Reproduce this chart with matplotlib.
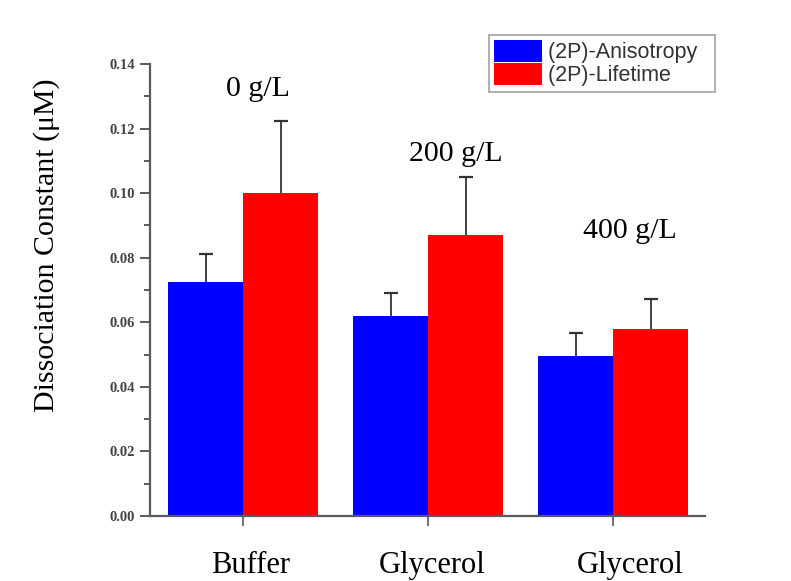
import numpy as np
import matplotlib
matplotlib.use("Agg")
import matplotlib.pyplot as plt
from matplotlib.ticker import MultipleLocator
from matplotlib.patches import Patch

# Data
categories = ["Buffer", "Glycerol", "Glycerol"]
concentrations = ["0 g/L", "200 g/L", "400 g/L"]
anisotropy = [0.0725, 0.062, 0.0495]
anisotropy_err = [0.0085, 0.007, 0.0072]
lifetime = [0.100, 0.087, 0.058]
lifetime_err = [0.0225, 0.018, 0.0092]
series_names = ["(2P)-Anisotropy", "(2P)-Lifetime"]

BLUE = "#0000FF"
RED = "#FF0000"
AX_GRAY = "#5a5a5a"
SERIF = ["Liberation Serif", "DejaVu Serif"]

fig = plt.figure(figsize=(7.91, 5.81), dpi=100)
ax = fig.add_axes([150 / 791, 1 - 516 / 581, 555 / 791, 452 / 581])

x = np.arange(len(categories))
width = 0.405
err_kw = dict(ecolor="#333333", elinewidth=1.3, capsize=5, capthick=1.6)

for offset, vals, errs, col in ((-width / 2, anisotropy, anisotropy_err, BLUE),
                                (width / 2, lifetime, lifetime_err, RED)):
    bc = ax.bar(x + offset, vals, width, color=col, linewidth=0,
                yerr=[np.zeros(len(x)), errs], error_kw=err_kw, zorder=2)
    # one-sided error bars: hide the cap sitting on the bar top
    caps = bc.errorbar.lines[1]
    if len(caps) == 2:
        caps[0].set_visible(False)

ax.set_xlim(-0.503, 2.497)

# Spines
for side in ("top", "right"):
    ax.spines[side].set_visible(False)
for side in ("left", "bottom"):
    ax.spines[side].set_color(AX_GRAY)
    ax.spines[side].set_linewidth(1.6)

# Y ticks
yticks = np.arange(0, 0.141, 0.02)
ax.set_yticks(yticks)
ax.set_yticklabels([f"{v:.2f}" for v in yticks],
                   family=SERIF, fontweight="bold", fontsize=10.5, color="#444444")
ax.yaxis.set_minor_locator(MultipleLocator(0.01))
ax.tick_params(axis="y", which="major", direction="out", length=7, width=1.4,
               color=AX_GRAY, pad=4)
ax.tick_params(axis="y", which="minor", direction="out", length=4, width=1.4,
               color=AX_GRAY)
ax.set_ylim(0, 0.14)

# X ticks at group centres, labels drawn as text below
ax.set_xticks(x)
ax.set_xticklabels([])
ax.tick_params(axis="x", which="major", direction="out", length=7, width=1.2,
               color=AX_GRAY)

label_shift = [0.04, 0.02, 0.09]
for xi, name, dx in zip(x, categories, label_shift):
    ax.text(xi + dx, -0.0152, name, ha="center", va="center",
            family=SERIF, fontsize=22, color="black", clip_on=False)

# Concentration annotations above each group
conc_pos = [(0.08, 0.1322), (1.15, 0.1122), (2.09, 0.0882)]
for (cx, cy), txt in zip(conc_pos, concentrations):
    ax.text(cx, cy, txt, ha="center", va="center", family=SERIF,
            fontsize=21.5, color="black")

# Y axis title
fig.text(47 / 791, 1 - 245 / 581, "Dissociation Constant (μM)", rotation=90,
         ha="center", va="center", family=SERIF, fontsize=21.5, color="black")

# Legend (trailing spaces give the wider right margin of the box)
handles = [Patch(facecolor=BLUE, edgecolor="none"),
           Patch(facecolor=RED, edgecolor="none")]
leg = fig.legend(handles, [s + "  " for s in series_names], loc="upper right",
                 bbox_to_anchor=(715 / 791, 1 - 35 / 581),
                 prop={"family": ["Liberation Sans", "DejaVu Sans"], "size": 15.5},
                 handlelength=2.25, handleheight=1.15, labelspacing=0.0,
                 handletextpad=0.28, borderpad=0.25, borderaxespad=0,
                 fancybox=False, frameon=True)
leg.get_frame().set_edgecolor("#8a8a8a")
leg.get_frame().set_linewidth(1.2)
for t in leg.get_texts():
    t.set_color("#333333")

fig.savefig("out.png", dpi=100)
